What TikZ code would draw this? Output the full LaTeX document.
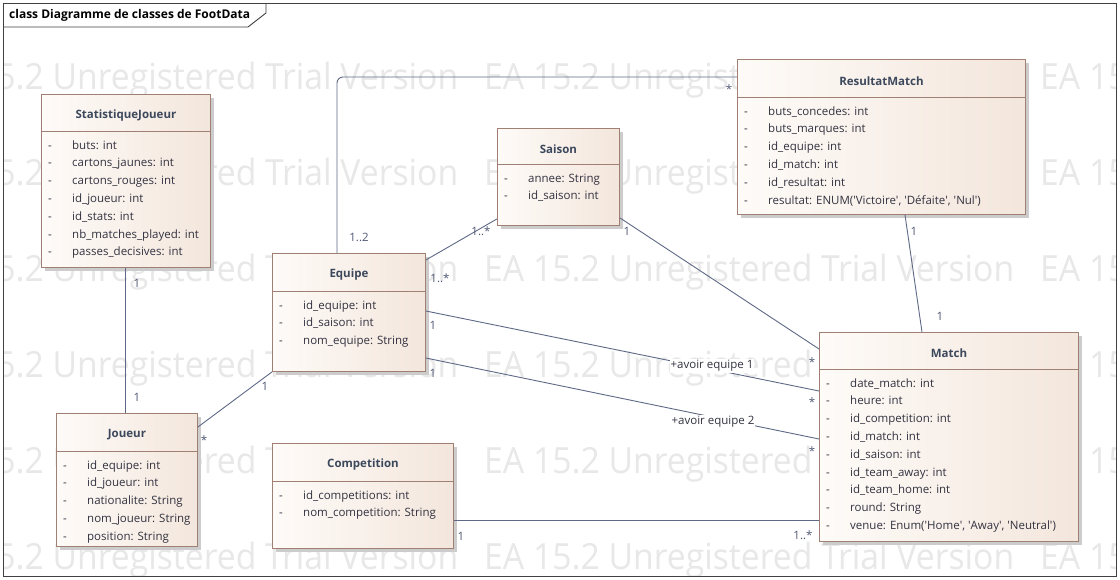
\documentclass[tikz,border=0pt]{standalone}
\usepackage{fontspec}
\setmainfont{Open Sans}
\usepackage{graphicx}
\usepackage{tikz}
\usetikzlibrary{calc,shadows}
\definecolor{boxleft}{RGB}{254,251,248}
\definecolor{boxright}{RGB}{243,230,220}
\definecolor{boxborder}{RGB}{160,128,115}
\definecolor{assoc}{RGB}{95,105,135}
\definecolor{titletext}{RGB}{60,72,92}
\definecolor{attrtext}{RGB}{50,50,64}
\definecolor{multtext}{RGB}{80,88,115}
\definecolor{wmark}{RGB}{232,232,232}

\newcommand{\sq}{\textquotesingle}
% class box: name, x, y, width, height, header height, title, attributes
\newcommand{\classbox}[8]{%
  \node[classnode, minimum width=#4pt, minimum height=#5pt, anchor=north west] (#1) at (#2,#3) {};
  \draw[classline] ([yshift=-#6pt]#1.north west) -- ([yshift=-#6pt]#1.north east);
  \node[classtitle] at ([yshift={-(#6/2+3)*1pt}]#1.north) {#7};
  \foreach \a [count=\i] in {#8} {
    \node[attr] at ([xshift=7pt, yshift={-(#6+18+(\i-1)*17.8)*1pt}]#1.north west) {-};
    \node[attr] at ([xshift=31pt, yshift={-(#6+18+(\i-1)*17.8)*1pt}]#1.north west) {\a};
  }%
}
\newcommand{\wmtext}{\resizebox{530pt}{\height}{\fontsize{36}{40}\selectfont EA 15.2 Unregistered Trial Version}}

\tikzset{
  classnode/.style={draw=boxborder, line width=0.9pt, left color=boxleft, right color=boxright,
    inner sep=0pt, general shadow={fill=black!20, shadow xshift=4pt, shadow yshift=-4pt}},
  classline/.style={draw=boxborder, line width=0.9pt},
  classtitle/.style={font=\fontsize{11.5}{14}\selectfont\bfseries, text=titletext, inner sep=0pt},
  attr/.style={font=\fontsize{11.5}{14}\selectfont, text=attrtext, anchor=base west, inner sep=0pt},
  link/.style={draw=assoc, line width=0.9pt},
  mult/.style={font=\fontsize{11.5}{14}\selectfont, text=multtext, inner sep=0pt},
  role/.style={font=\fontsize{11.5}{14}\selectfont, text=attrtext, fill=white, inner sep=1pt},
  watermark/.style={text=wmark, anchor=base west, inner sep=0pt}
}

\begin{document}
\begin{tikzpicture}[x=1pt, y=-1pt]
\useasboundingbox (0,0) rectangle (1120,579);
\fill[white] (0,0) rectangle (1120,579);

% watermark rows
\begin{scope}
  \clip (4,28) rectangle (1115,575);
  \foreach \row in {89,185,281,377,473,569}
    \foreach \col in {-72,484,1040}
      \node[watermark] at (\col,\row) {\wmtext};
\end{scope}

% frame
\draw[black!75, line width=0.9pt] (3,3) rectangle (1116,576);
\draw[black!75, line width=0.9pt] (3,27) -- (248,27) -- (266,13) -- (266,3);
\node[anchor=west, inner sep=0pt, font=\fontsize{12}{14}\selectfont\bfseries] (frametitle) at (9,15) {class Diagramme de classes de FootData};

% classes
\classbox{stat}{41}{94}{169}{173}{37}{StatistiqueJoueur}{buts: int, cartons\_jaunes: int, cartons\_rouges: int, id\_joueur: int, id\_stats: int, nb\_matches\_played: int, passes\_decisives: int}
\classbox{joueur}{56}{413}{141}{133}{38}{Joueur}{id\_equipe: int, id\_joueur: int, nationalite: String, nom\_joueur: String, position: String}
\classbox{equipe}{272}{253}{153}{118}{38}{Equipe}{id\_equipe: int, id\_saison: int, nom\_equipe: String}
\classbox{competition}{272}{443}{181}{105}{38}{Competition}{id\_competitions: int, nom\_competition: String}
\classbox{saison}{497}{128}{122}{97}{36}{Saison}{annee: String, id\_saison: int}
\classbox{resultat}{737}{59}{288}{155}{38}{ResultatMatch}{buts\_concedes: int, buts\_marques: int, id\_equipe: int, id\_match: int, id\_resultat: int, {resultat: ENUM(\sq Victoire\sq, \sq Défaite\sq, \sq Nul\sq)}}
\classbox{match}{819}{332}{259}{209}{37}{Match}{date\_match: int, heure: int, id\_competition: int, id\_match: int, id\_saison: int, id\_team\_away: int, id\_team\_home: int, round: String, {venue: Enum(\sq Home\sq, \sq Away\sq, \sq Neutral\sq)}}

% associations
\draw[link] ([xshift=84pt]stat.south west) -- ([xshift=69pt]joueur.north west);
\node[mult] at (137,283) {1};
\node[mult] at (137,397) {1};

\draw[link] ([yshift=-14pt]joueur.north east) -- (equipe.south west);
\node[mult] at (265,386) {1};
\node[mult] at (204,440) {*};

\draw[link] ([yshift=-7pt]equipe.north east) -- ([yshift=7pt]saison.south west);
\node[mult] at (481,231) {1..*};
\node[mult] at (440,278) {1..*};

\draw[link, rounded corners=6pt] ([xshift=65pt]equipe.north west) |- ([yshift=-18pt]resultat.north west);
\node[mult] at (359,237) {1..2};
\node[mult] at (729,89) {*};

\draw[link] ([yshift=8pt]saison.south east) -- ([yshift=-17pt]match.north west);
\node[mult] at (627,231) {1};
\node[mult] at (812,362) {*};

\draw[link] ([yshift=-58pt]equipe.north east) -- ([yshift=-59pt]match.north west);
\node[role] (role1) at (712,366) {+avoir equipe 1};
\node[mult] at (433,325) {1};
\node[mult] at (812,402) {*};

\draw[link] ([yshift=-105pt]equipe.north east) -- ([yshift=-107pt]match.north west);
\node[role] (role2) at (713,422) {+avoir equipe 2};
\node[mult] at (433,373) {1};
\node[mult] at (812,451) {*};

\draw[link] ([yshift=-77pt]competition.north east) -- ([yshift=-188pt]match.north west);
\node[mult] at (461,536) {1};
\node[mult] at (803,535) {1..*};

\draw[link] ([xshift=168pt]resultat.south west) -- ([xshift=103pt]match.north west);
\node[mult] at (914,231) {1};
\node[mult] at (940,316) {1};
\end{tikzpicture}
\end{document}
